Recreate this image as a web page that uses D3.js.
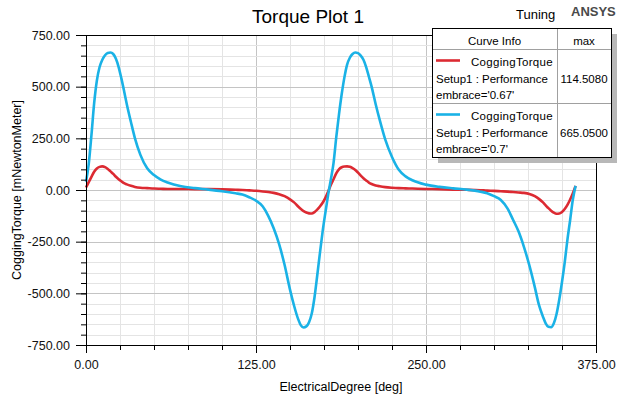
<!DOCTYPE html>
<html>
<head>
<meta charset="utf-8">
<script src="https://cdn.jsdelivr.net/npm/d3@7"></script>
<style>
  html, body { margin: 0; padding: 0; background: #fff; }
  svg { display: block; font-family: "Liberation Sans", Arial, sans-serif; }
</style>
</head>
<body>
<svg id="chart" width="622" height="398"></svg>
<script>
// Cogging torque vs electrical degree, two embrace values
const degrees = [
  0, 2, 4, 6, 8, 10, 12, 14, 16, 18, 20, 22, 24, 26, 28, 30,
  33, 36, 40, 45, 50, 55, 60, 70, 80, 90, 100, 110, 115, 120, 125, 130,
  134, 138, 142, 146, 150, 153, 156,
  158, 160, 162, 164, 166, 168, 170, 172, 174, 176, 178, 180,
  182, 184, 186, 188, 190, 192, 194, 196, 198, 200, 202, 204, 206, 208, 210,
  213, 216, 220, 225, 230, 235, 240, 250, 260, 270, 280, 290, 295, 300, 305, 310,
  314, 318, 322, 326, 330, 333, 336,
  338, 340, 342, 344, 346, 348, 350, 352, 354, 356, 358, 360
];

const torque067 = [
  12, 38, 64, 88, 104, 112, 114.5, 111, 102, 90, 78, 64, 52, 42, 33, 27,
  20, 15, 11, 9, 7, 6, 5, 5, 4, 4, 3, 1, 0, -2, -4, -7,
  -10, -14, -20, -30, -45, -60, -80,
  -92, -102, -109, -113, -114, -107, -95, -80, -62, -38, -8, 24,
  52, 80, 100, 110, 114, 114.5, 112, 106, 97, 84, 70, 57, 46, 36, 29,
  22, 18, 14, 11, 9, 8, 7, 5, 4, 2, 1, -1, -3, -4, -6, -8,
  -10, -12, -14, -19, -30, -43, -60,
  -74, -88, -100, -110, -115, -114, -106, -92, -72, -46, -16, 20
];

const torque07 = [
  40, 125, 265, 420, 530, 595, 630, 652, 663, 665, 658, 635, 595, 540, 479, 415,
  330, 250, 170, 105, 72, 50, 36, 18, 9, 2, -6, -16, -22, -35, -52, -80,
  -125, -185, -262, -362, -482, -560, -625,
  -655, -665, -660, -640, -598, -520, -415, -305, -200, -110, -25, 50,
  130, 255, 365, 463, 545, 607, 640, 658, 665, 662, 650, 630, 595, 548, 500,
  415, 338, 245, 160, 98, 66, 47, 26, 15, 8, 2, -8, -16, -30, -48, -90,
  -144, -200, -275, -365, -470, -555, -613,
  -645, -662, -664, -645, -600, -530, -445, -350, -240, -145, -45, 20
];

const xTicks = [0, 125, 250, 375];
const yTicks = [-750, -500, -250, 0, 250, 500, 750];

const legendRows = [
  { name: 'CoggingTorque', setup: 'Setup1 : Performance', embrace: "embrace='0.67'", max: '114.5080', color: '#dc2a32' },
  { name: 'CoggingTorque', setup: 'Setup1 : Performance', embrace: "embrace='0.7'",  max: '665.0500', color: '#1ab2e6' },
];
const seriesValues = [torque067, torque07];

const svg = d3.select('#chart');
const W = 622, H = 398;
const plot = { left: 86, right: 596, top: 35, bottom: 345 };

svg.append('rect').attr('width', W).attr('height', H).attr('fill', '#fff');

const x = d3.scaleLinear().domain([0, 375]).range([plot.left, plot.right]);
const y = d3.scaleLinear().domain([-750, 750]).range([plot.bottom, plot.top]);
const fmt = v => v.toFixed(2);
const crisp = v => Math.round(v) + 0.5;

// ── grid: minor every 25 deg / 50 units, majors a touch darker ──
const grid = svg.append('g').attr('class', 'grid');
d3.range(25, 375, 25).forEach(v => {
  grid.append('line')
    .attr('x1', crisp(x(v))).attr('x2', crisp(x(v)))
    .attr('y1', plot.top).attr('y2', plot.bottom)
    .attr('stroke', v % 125 === 0 ? '#c4c4c4' : '#e4e4e4');
});
d3.range(-700, 750, 50).forEach(v => {
  grid.append('line')
    .attr('x1', plot.left).attr('x2', plot.right)
    .attr('y1', crisp(y(v))).attr('y2', crisp(y(v)))
    .attr('stroke', v % 250 === 0 ? '#c4c4c4' : '#e4e4e4');
});

// ── curves ──
const line = d3.line()
  .x((d, i) => x(degrees[i]))
  .y(d => y(d))
  .curve(d3.curveMonotoneX);

seriesValues.forEach((vals, i) => {
  svg.append('path')
    .datum(vals)
    .attr('d', line)
    .attr('fill', 'none')
    .attr('stroke', legendRows[i].color)
    .attr('stroke-width', 2.6)
    .attr('stroke-linejoin', 'round');
});

// ── frame + axes ──
svg.append('rect')
  .attr('x', plot.left + 0.5).attr('y', plot.top + 0.5)
  .attr('width', plot.right - plot.left).attr('height', plot.bottom - plot.top)
  .attr('fill', 'none').attr('stroke', '#000');

const yAxis = svg.append('g').attr('transform', `translate(${plot.left},0)`)
  .call(d3.axisLeft(y).tickValues(yTicks).tickSize(10).tickPadding(6).tickFormat(fmt));
const yMinor = svg.append('g').attr('transform', `translate(${plot.left},0)`)
  .call(d3.axisLeft(y).tickValues(d3.range(-700, 750, 50)).tickSize(5).tickFormat(''));
const xAxis = svg.append('g').attr('transform', `translate(0,${plot.bottom})`)
  .call(d3.axisBottom(x).tickValues(xTicks).tickSize(8).tickPadding(7).tickFormat(fmt));
const xMinor = svg.append('g').attr('transform', `translate(0,${plot.bottom})`)
  .call(d3.axisBottom(x).tickValues(d3.range(25, 375, 25)).tickSize(5).tickFormat(''));

[yAxis, yMinor, xAxis, xMinor].forEach(g => {
  g.select('.domain').remove();
  g.selectAll('line').attr('stroke', '#000');
  g.selectAll('text').attr('fill', '#111').style('font-size', '12.5px')
    .style('font-family', '"Liberation Sans", Arial, sans-serif');
});

// ── titles ──
svg.append('text').attr('x', 308).attr('y', 22.5).attr('text-anchor', 'middle')
  .style('font-size', '19px').text('Torque Plot 1');
svg.append('text').attr('x', 516).attr('y', 18.5)
  .style('font-size', '13px').text('Tuning');
svg.append('text').attr('x', 571).attr('y', 15.5)
  .style('font-size', '13px').style('font-weight', 'bold').attr('fill', '#4a4a4a')
  .text('ANSYS');
svg.append('text').attr('x', (plot.left + plot.right) / 2).attr('y', 390.5)
  .attr('text-anchor', 'middle').style('font-size', '12.5px').text('ElectricalDegree [deg]');
svg.append('text').attr('transform', `translate(21,${(plot.top + plot.bottom) / 2}) rotate(-90)`)
  .attr('text-anchor', 'middle').style('font-size', '12.5px').text('CoggingTorque [mNewtonMeter]');

// ── legend table ──
const lg = { x: 432, y: 28, w: 179, h: 129, split: 557, headH: 21, rowH: 54 };
const legend = svg.append('g').attr('class', 'legend');
legend.append('rect')
  .attr('x', lg.x + 6).attr('y', lg.y + 6).attr('width', lg.w).attr('height', lg.h)
  .attr('fill', '#b8b8b8');
legend.append('rect')
  .attr('x', lg.x + 0.5).attr('y', lg.y + 0.5).attr('width', lg.w).attr('height', lg.h)
  .attr('fill', '#fff');
legend.append('line')
  .attr('x1', lg.split + 0.5).attr('x2', lg.split + 0.5)
  .attr('y1', lg.y).attr('y2', lg.y + lg.h)
  .attr('stroke', '#a0a0a0');
[lg.y + lg.headH, lg.y + lg.headH + lg.rowH].forEach(yy => {
  legend.append('line')
    .attr('x1', lg.x).attr('x2', lg.x + lg.w)
    .attr('y1', yy + 0.5).attr('y2', yy + 0.5)
    .attr('stroke', '#a0a0a0');
});
legend.append('rect')
  .attr('x', lg.x + 0.5).attr('y', lg.y + 0.5).attr('width', lg.w).attr('height', lg.h)
  .attr('fill', 'none').attr('stroke', '#000');

const lgFont = '11.5px';
legend.append('text').attr('x', (lg.x + lg.split) / 2).attr('y', lg.y + 17)
  .attr('text-anchor', 'middle').style('font-size', lgFont).text('Curve Info');
legend.append('text').attr('x', (lg.split + lg.x + lg.w) / 2).attr('y', lg.y + 17)
  .attr('text-anchor', 'middle').style('font-size', lgFont).text('max');

legendRows.forEach((r, i) => {
  const top = lg.y + lg.headH + i * lg.rowH;
  legend.append('line')
    .attr('x1', 436).attr('x2', 460)
    .attr('y1', top + 11.5).attr('y2', top + 11.5)
    .attr('stroke', r.color).attr('stroke-width', 2.6);
  legend.append('text').attr('x', 471).attr('y', top + 16.5)
    .style('font-size', lgFont).style('letter-spacing', '0.3px').text(r.name);
  legend.append('text').attr('x', 436).attr('y', top + 33.5)
    .style('font-size', lgFont).text(r.setup);
  legend.append('text').attr('x', 436).attr('y', top + 49.5)
    .style('font-size', lgFont).text(r.embrace);
  legend.append('text').attr('x', (lg.split + lg.x + lg.w) / 2).attr('y', top + 33.5)
    .attr('text-anchor', 'middle').style('font-size', lgFont).text(r.max);
});
</script>
</body>
</html>
